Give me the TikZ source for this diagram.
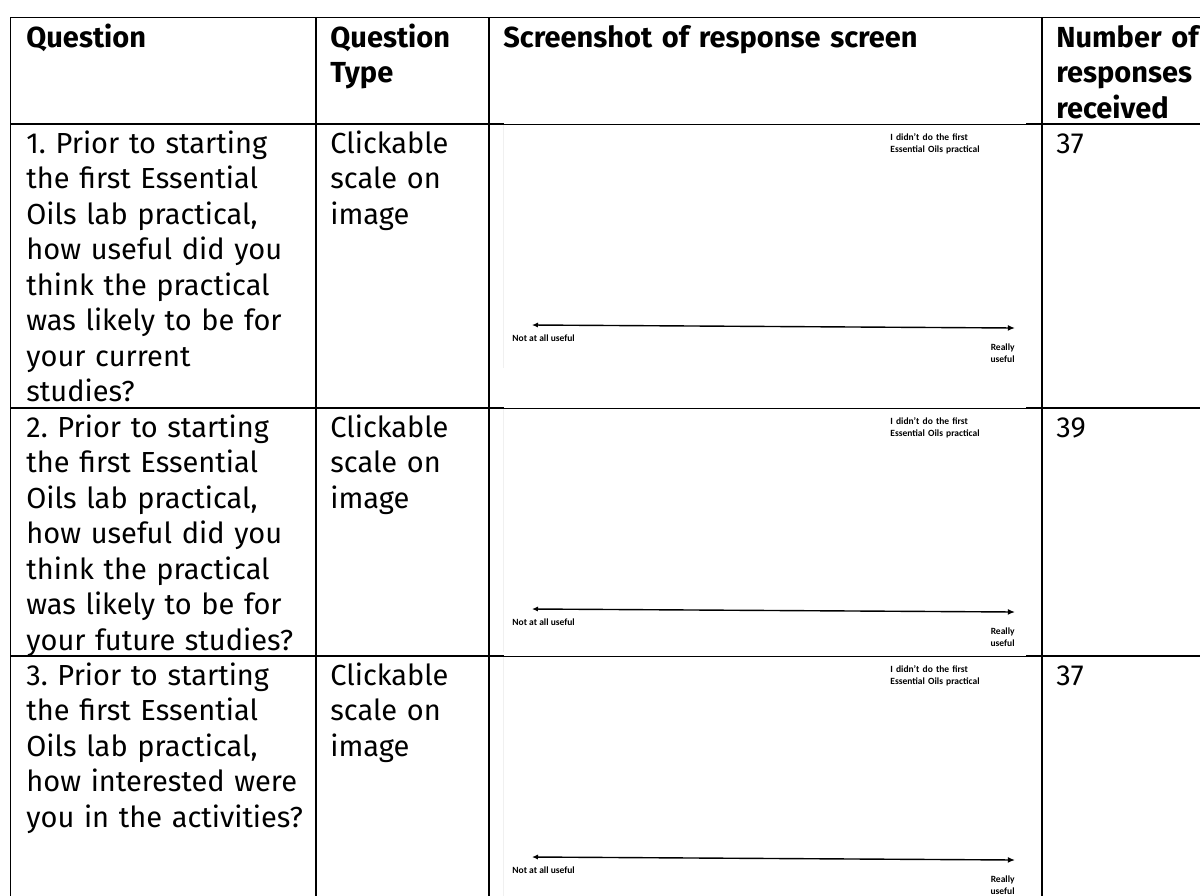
\documentclass[tikz,border=0pt]{standalone}
\usepackage{fontspec}
\setmainfont{Fira Sans}
\newfontfamily\shotfont{Carlito}
\usetikzlibrary{arrows.meta}
\frenchspacing
\newcommand{\respshot}[2]{%
  \begin{scope}[shift={(0,#1)}]
    \draw[shotedge] (503,1) -- (503,244);
    \node[shottxt, anchor=base west, text width=60pt] (#2d) at (890,16) {I didn’t do the first\\Essential Oils practical};
    \coordinate (#2l) at (532,201);
    \coordinate (#2r) at (1015,204);
    \draw[scalearrow] (#2l) -- (#2r);
    \node[shottxt, anchor=base west] (#2n) at (512,217) {Not at all useful};
    \node[shottxt, anchor=base east, align=right, text width=14pt] (#2u) at (1015,226) {Really\\useful};
  \end{scope}}
\begin{document}
\begin{tikzpicture}[x=0.5pt,y=-0.5pt,
  grid/.style={line width=0.75pt, line cap=rect},
  thingrid/.style={line width=0.5pt},
  cell/.style={anchor=base west, align=left, inner sep=0pt, text width=148pt, font=\fontsize{14.5pt}{17.75pt}\selectfont},
  head/.style={cell, font=\fontsize{14.5pt}{17.75pt}\selectfont\bfseries},
  shottxt/.style={inner sep=0pt, align=left, font=\shotfont\bfseries\fontsize{4.75pt}{6.4pt}\selectfont},
  shotedge/.style={draw=gray!12, line width=0.4pt},
  scalearrow/.style={line width=0.7pt, {Latex[length=3pt,width=2.6pt]}-{Latex[length=3.6pt,width=3pt]}}
]
\useasboundingbox (0,0) rectangle (1200,895);
\fill[white] (0,0) rectangle (1200,895);
% screenshots
\respshot{124}{sa}
\respshot{408}{sb}
\respshot{656}{sc}
% grid: horizontal rules (thinner where the screenshot lies over them)
\coordinate (t0) at (10.5,17.5);  \coordinate (t1) at (1200,17.5);
\draw[grid] (t0) -- (t1);
\foreach \yy/\nm in {124/ra, 408/rb, 656/rc}{
  \coordinate (\nm0) at (10.5,\yy);
  \coordinate (\nm1) at (503,\yy);
  \coordinate (\nm2) at (1027,\yy);
  \coordinate (\nm3) at (1200,\yy);
  \draw[grid] (\nm0) -- (\nm1);
  \draw[thingrid] (\nm1) -- (\nm2);
  \draw[grid] (\nm2) -- (\nm3);
}
% grid: vertical rules
\coordinate (c0a) at (10.5,17.5); \coordinate (c0b) at (10.5,895);
\coordinate (c1a) at (316,17.5);  \coordinate (c1b) at (316,895);
\coordinate (c2a) at (489,17.5);  \coordinate (c2b) at (489,895);
\coordinate (c3a) at (1042,17.5); \coordinate (c3b) at (1042,895);
\draw[grid] (c0a) -- (c0b);
\draw[grid] (c1a) -- (c1b);
\draw[grid] (c2a) -- (c2b);
\draw[grid] (c3a) -- (c3b);
% header
\node[head] (h1) at (26,47) {Question};
\node[head] (h2) at (330,47) {Question\\Type};
\node[head, text width=215pt] (h3) at (503,47) {Screenshot of response screen};
\node[head, text width=72pt] (h4) at (1056,47) {Number of\\responses\\received};
% row 1
\node[cell] (q1) at (26,153) {1. Prior to starting\\the first Essential\\Oils lab practical,\\how useful did you\\think the practical\\was likely to be for\\your current\\studies?};
\node[cell, text width=80pt] (t1c) at (330,153) {Clickable\\scale on\\image};
\node[cell, text width=70pt] (n1) at (1056,153) {37};
% row 2
\node[cell] (q2) at (26,437) {2. Prior to starting\\the first Essential\\Oils lab practical,\\how useful did you\\think the practical\\was likely to be for\\your future studies?};
\node[cell, text width=80pt] (t2c) at (330,437) {Clickable\\scale on\\image};
\node[cell, text width=70pt] (n2) at (1056,437) {39};
% row 3
\node[cell] (q3) at (26,685) {3. Prior to starting\\the first Essential\\Oils lab practical,\\how interested were\\you in the activities?};
\node[cell, text width=80pt] (t3c) at (330,685) {Clickable\\scale on\\image};
\node[cell, text width=70pt] (n3) at (1056,685) {37};
\end{tikzpicture}
\end{document}
